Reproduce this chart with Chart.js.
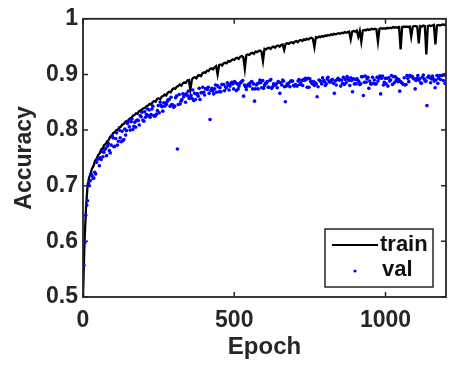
<!DOCTYPE html>
<html>
<head>
<meta charset="utf-8">
<script src="https://cdn.jsdelivr.net/npm/chart.js@4/dist/chart.umd.min.js"></script>
<style>
  html, body { margin: 0; padding: 0; background: #fff; }
  #wrap { width: 454px; height: 367px; }
</style>
</head>
<body>
<div id="wrap"><canvas id="chart" width="454" height="367"></canvas></div>
<script>
// ── Data ────────────────────────────────────────────────────────────────────
const TRAIN_STEP = 5;   // one train value every 5 epochs
const trainAcc = [
  .500,.600,.660,.700,.714,.722,.731,.736,.745,.748,
  .755,.758,.765,.767,.773,.775,.780,.782,.788,.789,
  .795,.796,.800,.801,.805,.806,.810,.811,.815,.816,
  .818,.821,.822,.826,.827,.830,.829,.834,.835,.837,
  .839,.840,.843,.844,.847,.846,.850,.852,.851,.856,
  .857,.855,.860,.861,.864,.862,.867,.869,.868,.873,
  .875,.874,.878,.879,.882,.880,.884,.886,.885,.889,
  .890,.872,.891,.894,.895,.893,.898,.899,.897,.902,
  .904,.903,.907,.906,.910,.911,.909,.913,.915,.900,
  .917,.918,.916,.920,.921,.920,.924,.923,.925,.927,
  .926,.929,.930,.928,.932,.933,.931,.910,.935,.936,
  .935,.938,.939,.937,.941,.940,.942,.943,.941,.924,
  .946,.945,.947,.948,.946,.949,.950,.948,.951,.952,
  .950,.953,.954,.944,.955,.956,.955,.957,.958,.956,
  .959,.960,.958,.961,.962,.960,.963,.962,.964,.963,
  .965,.966,.964,.949,.967,.966,.968,.967,.969,.968,
  .970,.969,.971,.970,.972,.971,.973,.972,.973,.974,
  .973,.975,.974,.976,.975,.976,.977,.963,.977,.978,
  .977,.979,.968,.978,.959,.979,.980,.979,.981,.980,
  .981,.982,.981,.982,.981,.959,.982,.983,.982,.983,
  .982,.984,.983,.984,.983,.985,.984,.985,.984,.985,
  .945,.985,.986,.985,.986,.985,.986,.968,.986,.987,
  .987,.986,.956,.987,.986,.988,.987,.936,.987,.988,
  .987,.988,.989,.954,.988,.989,.988,.989,.990,.989,
  .990
];

const VAL_STEP = 3;     // one val value every 3 epochs
const valAcc = [
  .501,.557,.598,.647,.665,.673,.704,.700,.709,.721,
  .718,.713,.714,.724,.721,.742,.748,.748,.736,.750,
  .747,.761,.752,.760,.765,.767,.754,.771,.776,.763,
  .759,.773,.790,.786,.770,.771,.785,.795,.773,.780,
  .800,.786,.779,.798,.781,.783,.802,.791,.799,.812,
  .816,.806,.800,.815,.820,.801,.807,.814,.805,.817,
  .818,.817,.809,.826,.824,.832,.818,.816,.833,.823,
  .828,.838,.826,.836,.823,.828,.838,.843,.826,.825,
  .826,.829,.835,.844,.831,.850,.844,.842,.834,.849,
  .843,.848,.846,.852,.855,.855,.843,.859,.846,.845,
  .841,.843,.858,.861,.766,.846,.864,.847,.852,.855,
  .865,.860,.864,.850,.865,.862,.870,.857,.858,.862,
  .857,.872,.853,.866,.855,.865,.865,.861,.875,.855,
  .867,.867,.877,.868,.863,.874,.874,.873,.877,.866,
  .819,.871,.875,.871,.865,.874,.881,.868,.880,.878,
  .869,.876,.869,.882,.882,.882,.871,.878,.876,.885,
  .881,.872,.879,.884,.886,.883,.874,.887,.885,.871,
  .883,.874,.879,.884,.886,.887,.889,.861,.881,.878,
  .873,.879,.882,.883,.879,.886,.887,.874,.883,.852,
  .874,.881,.883,.874,.885,.890,.885,.876,.889,.875,
  .880,.884,.884,.887,.877,.877,.889,.891,.875,.878,
  .883,.881,.881,.883,.876,.887,.886,.866,.885,.881,
  .890,.888,.878,.851,.879,.883,.881,.885,.878,.888,
  .888,.888,.880,.879,.882,.880,.879,.888,.891,.882,
  .884,.889,.880,.891,.889,.893,.891,.877,.893,.877,
  .892,.887,.885,.883,.887,.880,.885,.883,.860,.878,
  .890,.889,.887,.883,.894,.889,.887,.880,.883,.892,
  .895,.888,.886,.888,.890,.891,.884,.866,.888,.881,
  .891,.893,.890,.890,.879,.890,.884,.895,.882,.891,
  .885,.896,.892,.889,.880,.894,.889,.869,.892,.883,
  .891,.883,.892,.889,.887,.882,.883,.896,.896,.862,
  .886,.897,.886,.892,.895,.875,.888,.883,.883,.895,
  .884,.890,.883,.883,.895,.888,.893,.897,.865,.893,
  .897,.881,.886,.893,.883,.893,.879,.894,.888,.890,
  .898,.882,.896,.885,.896,.889,.893,.887,.891,.870,
  .887,.885,.884,.882,.894,.881,.882,.898,.893,.887,
  .898,.897,.896,.896,.893,.892,.874,.889,.893,.898,
  .890,.892,.885,.884,.895,.899,.892,.888,.888,.844,
  .895,.897,.894,.885,.892,.897,.892,.888,.876,.890,
  .898,.884,.893,.898,.891,.898,.898,.889,.900,.884,
  .897
];

const xTicks = [0, 500, 1000];
const yTicks = [0.5, 0.6, 0.7, 0.8, 0.9, 1];
const X_MAX  = 1200;
const seriesNames = ["train", "val"];

// ── Styles ──────────────────────────────────────────────────────────────────
const AXIS_COLOR = "#262626";
const FONT = "Liberation Sans";

const trainPts = trainAcc.map((v, i) => ({ x: i * TRAIN_STEP, y: v }));
const valPts   = valAcc.map((v, i) => ({ x: i * VAL_STEP, y: v }));

// MATLAB-like box with inward ticks + legend box in the lower right
const matlabAxes = {
  id: "matlabAxes",
  afterDatasetsDraw(chart) {
    const { ctx, chartArea: a, scales: { x, y } } = chart;
    const TL = 5;
    ctx.save();
    ctx.strokeStyle = AXIS_COLOR;
    ctx.lineWidth = 1.8;
    ctx.strokeRect(a.left, a.top, a.right - a.left, a.bottom - a.top);
    ctx.lineWidth = 1.5;
    ctx.beginPath();
    xTicks.forEach(t => {
      const px = x.getPixelForValue(t);
      ctx.moveTo(px, a.bottom); ctx.lineTo(px, a.bottom - TL);
      ctx.moveTo(px, a.top);    ctx.lineTo(px, a.top + TL);
    });
    yTicks.forEach(t => {
      const py = y.getPixelForValue(t);
      ctx.moveTo(a.left, py);  ctx.lineTo(a.left + TL, py);
      ctx.moveTo(a.right, py); ctx.lineTo(a.right - TL, py);
    });
    ctx.stroke();

    // legend
    const bx = a.right - 121, by = a.bottom - 68, bw = 108, bh = 58;
    ctx.fillStyle = "#fff";
    ctx.fillRect(bx, by, bw, bh);
    ctx.strokeStyle = AXIS_COLOR;
    ctx.lineWidth = 1.5;
    ctx.strokeRect(bx, by, bw, bh);

    const ds = chart.data.datasets;
    ctx.strokeStyle = ds[1].borderColor;
    ctx.lineWidth = 2;
    ctx.beginPath();
    ctx.moveTo(bx + 7, by + 16); ctx.lineTo(bx + 53, by + 16);
    ctx.stroke();
    ctx.fillStyle = ds[0].backgroundColor;
    ctx.beginPath();
    ctx.arc(bx + 30, by + 42, 1.6, 0, Math.PI * 2);
    ctx.fill();

    ctx.fillStyle = "#111";
    ctx.font = `bold 22px "${FONT}"`;
    ctx.textBaseline = "middle";
    ctx.textAlign = "left";
    ctx.fillText(ds[1].label, bx + 55, by + 16);
    ctx.fillText(ds[0].label, bx + 57, by + 41);
    ctx.restore();
  }
};

new Chart(document.getElementById("chart"), {
  type: "scatter",
  data: {
    datasets: [
      {
        label: seriesNames[1],
        data: valPts,
        order: 1,
        backgroundColor: "#0000ff",
        borderColor: "#0000ff",
        pointRadius: 1.8,
        pointBorderWidth: 0,
        showLine: false
      },
      {
        label: seriesNames[0],
        data: trainPts,
        order: 2,
        borderColor: "#000000",
        backgroundColor: "#000000",
        borderWidth: 2.3,
        pointRadius: 0,
        showLine: true,
        tension: 0
      }
    ]
  },
  options: {
    responsive: false,
    animation: false,
    events: [],
    layout: { padding: { left: 0, right: 8, top: 14, bottom: 0 } },
    plugins: { legend: { display: false }, tooltip: { enabled: false } },
    scales: {
      x: {
        type: "linear",
        min: 0, max: X_MAX,
        afterBuildTicks: s => { s.ticks = xTicks.map(v => ({ value: v })); },
        afterFit: s => { s.height = 70; },
        grid: { display: false, drawTicks: false },
        border: { display: false },
        ticks: {
          padding: 10,
          maxRotation: 0,
          color: AXIS_COLOR,
          callback: v => String(v),
          font: { family: FONT, size: 23, weight: "bold" }
        },
        title: {
          display: true, text: "Epoch", color: AXIS_COLOR,
          padding: { top: 0, bottom: 5 },
          font: { family: FONT, size: 24, weight: "bold" }
        }
      },
      y: {
        type: "linear",
        min: 0.5, max: 1,
        afterBuildTicks: s => { s.ticks = yTicks.map(v => ({ value: v })); },
        afterFit: s => { s.width = 83; },
        grid: { display: false, drawTicks: false },
        border: { display: false },
        ticks: {
          padding: 5,
          color: AXIS_COLOR,
          callback: v => String(Number(v.toFixed(1))),
          font: { family: FONT, size: 23, weight: "bold" }
        },
        title: {
          display: true, text: "Accuracy", color: AXIS_COLOR,
          padding: { top: 11, bottom: 0 },
          font: { family: FONT, size: 23, weight: "bold" }
        }
      }
    }
  },
  plugins: [matlabAxes]
});
</script>
</body>
</html>
